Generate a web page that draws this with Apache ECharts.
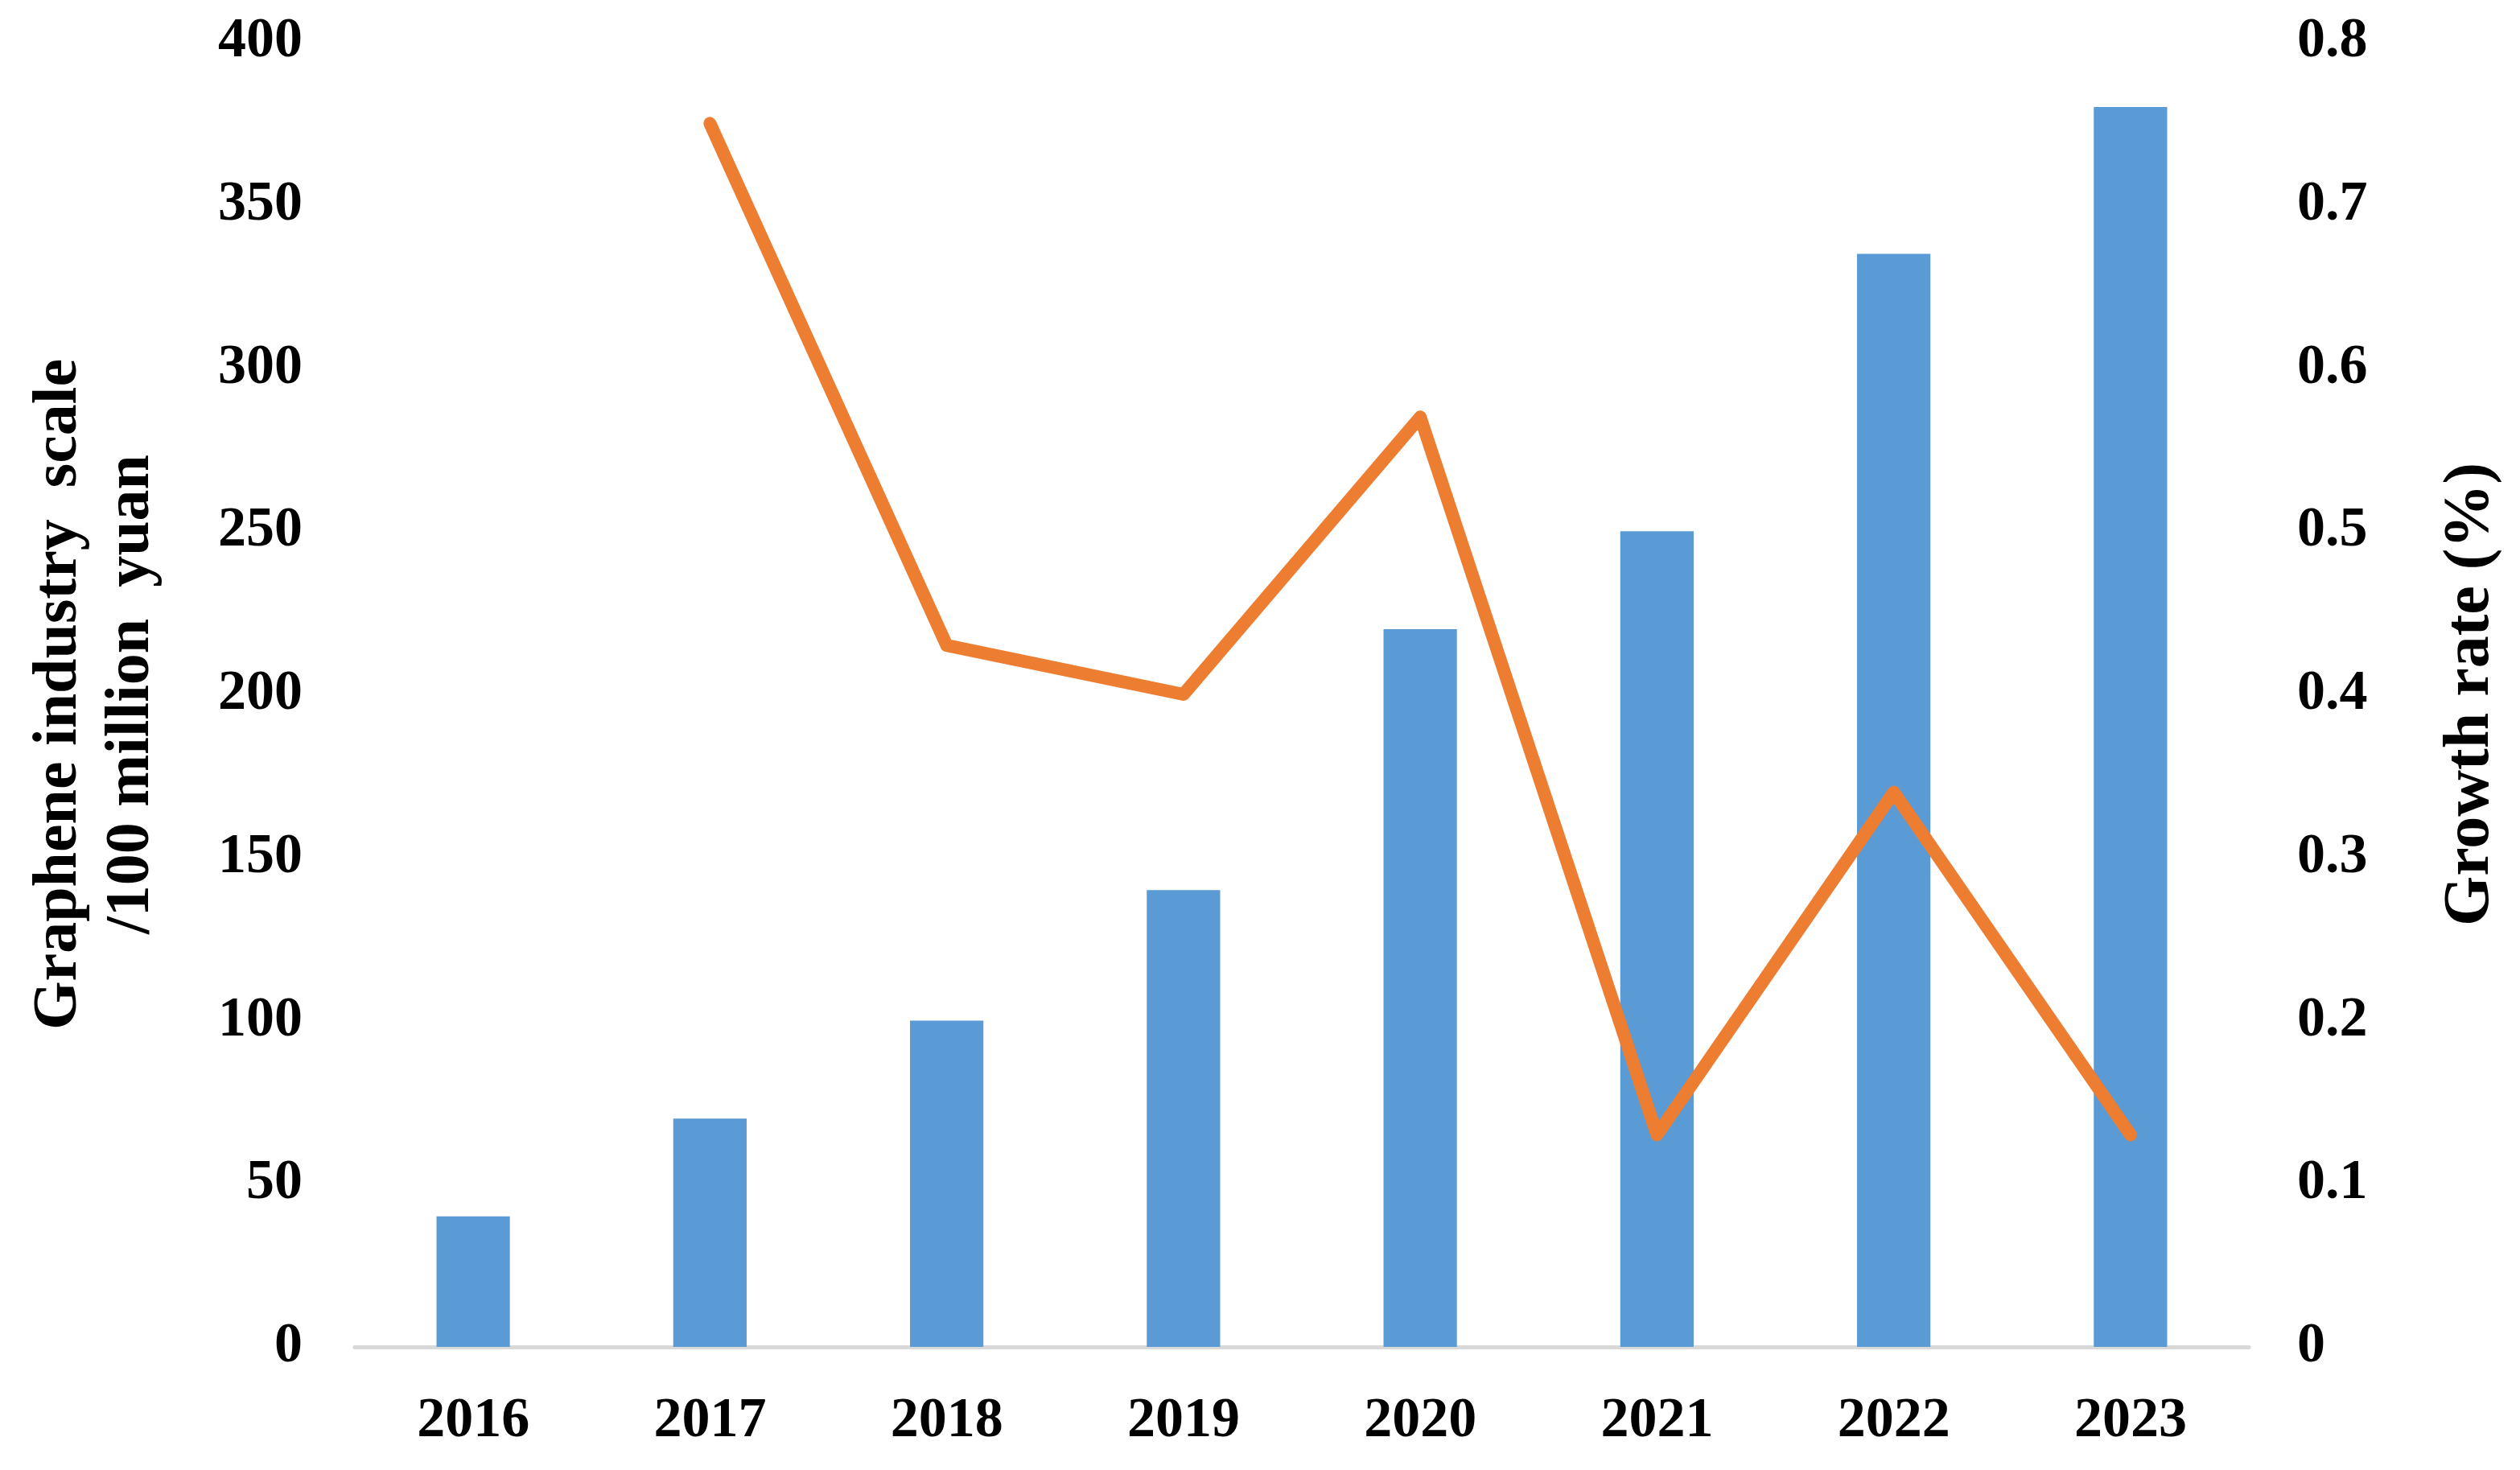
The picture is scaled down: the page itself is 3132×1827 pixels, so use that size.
<!DOCTYPE html>
<html>
<head>
<meta charset="utf-8">
<script src="https://cdn.jsdelivr.net/npm/echarts@6/dist/echarts.min.js"></script>
<style>
  html, body { margin: 0; padding: 0; background: #fff; }
  #chart { width: 3132px; height: 1827px; }
</style>
</head>
<body>
<div id="chart"></div>
<script>
var years = ['2016', '2017', '2018', '2019', '2020', '2021', '2022', '2023'];
var scaleValues = [40, 70, 100, 140, 220, 250, 335, 380];
var growthValues = [null, 0.75, 0.43, 0.40, 0.57, 0.13, 0.34, 0.13];
var leftTicks = { min: 0, max: 400, interval: 50 };
var rightTicks = { min: 0, max: 0.8, interval: 0.1 };

var font = 'Liberation Serif, Times New Roman, serif';
var chart = echarts.init(document.getElementById('chart'));
var option = {
    animation: false,
    grid: {
        left: 441,
        right: 3132 - 2795,
        top: 52,
        bottom: 1827 - 1674,
        containLabel: false
    },
    xAxis: {
        type: 'category',
        data: years,
        axisTick: { show: false },
        axisLine: { show: true, lineStyle: { color: '#d9d9d9', width: 5 } },
        axisLabel: {
            margin: 58,
            color: '#000',
            fontFamily: font,
            fontWeight: 'bold',
            fontSize: 70
        }
    },
    yAxis: [
        {
            type: 'value',
            min: leftTicks.min,
            max: leftTicks.max,
            interval: leftTicks.interval,
            name: 'Graphene industry  scale\n/100 million  yuan',
            nameLocation: 'middle',
            nameRotate: 90,
            nameGap: 232,
            nameTextStyle: {
                color: '#000',
                fontFamily: font,
                fontWeight: 'bold',
                fontSize: 78,
                lineHeight: 90
            },
            axisLine: { show: false },
            axisTick: { show: false },
            splitLine: { show: false },
            axisLabel: {
                margin: 65,
                color: '#000',
                fontFamily: font,
                fontWeight: 'bold',
                fontSize: 70
            }
        },
        {
            type: 'value',
            position: 'right',
            min: rightTicks.min,
            max: rightTicks.max,
            interval: rightTicks.interval,
            name: 'Growth rate (%)',
            nameLocation: 'middle',
            nameRotate: 90,
            nameGap: 236,
            nameTextStyle: {
                color: '#000',
                fontFamily: font,
                fontWeight: 'bold',
                fontSize: 80
            },
            axisLine: { show: false },
            axisTick: { show: false },
            splitLine: { show: false },
            axisLabel: {
                margin: 60,
                color: '#000',
                fontFamily: font,
                fontWeight: 'bold',
                fontSize: 70,
                formatter: function (v) { return v === 0 ? '0' : v.toFixed(1); }
            }
        }
    ],
    series: [
        {
            name: 'Graphene industry scale',
            type: 'bar',
            data: scaleValues,
            yAxisIndex: 0,
            barWidth: '31%',
            itemStyle: { color: '#5b9bd5' }
        },
        {
            name: 'Growth rate',
            type: 'line',
            data: growthValues,
            yAxisIndex: 1,
            symbol: 'none',
            connectNulls: false,
            lineStyle: { color: '#ed7d31', width: 16, cap: 'round', join: 'round' }
        }
    ]
};
chart.setOption(option);
</script>
</body>
</html>
